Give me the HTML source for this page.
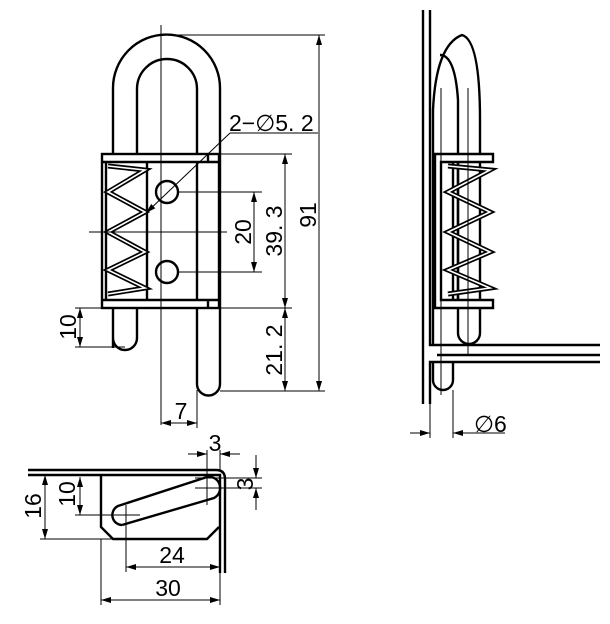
<!DOCTYPE html>
<html><head><style>body{margin:0;background:#fff}svg{display:block}</style></head><body>
<svg width="610" height="624" viewBox="0 0 610 624" xmlns="http://www.w3.org/2000/svg" font-family="Liberation Sans, sans-serif" font-size="23">
<defs><marker id="a" markerWidth="10" markerHeight="6" refX="10" refY="3" orient="auto-start-reverse" markerUnits="userSpaceOnUse"><path d="M0,0L10,3L0,6z" fill="#000"/></marker></defs>
<g fill="none" stroke="#000" stroke-width="2.4">
<path d="M113,348V88A53.5,53.5 0 0 1 220,88V384A11.5,11.5 0 0 1 197,384V89A30,30 0 0 0 137,89V338A12,12 0 0 1 113,338"/>
<rect x="102" y="154" width="117" height="154" fill="#fff"/>
<line x1="102" y1="162" x2="219" y2="162"/><line x1="102" y1="300" x2="219" y2="300"/>
<line x1="106" y1="162" x2="106" y2="300"/><line x1="147" y1="162" x2="147" y2="300"/>
<line x1="197" y1="162" x2="197" y2="300"/><line x1="208" y1="154" x2="208" y2="162"/><line x1="208" y1="300" x2="208" y2="308"/>
<circle cx="167" cy="192" r="11"/><circle cx="167" cy="272" r="11"/>
<path d="M108,166L145,170L108,192L145,212L108,232L145,252L108,270L145,288L108,294" stroke-width="5"/>
<path d="M108,166L145,170L108,192L145,212L108,232L145,252L108,270L145,288L108,294" stroke="#fff" stroke-width="1.6"/>
<path d="M423,10V404M430,10V345H600M430,404V362H600M437,355H600"/>
<path d="M433,345V110Q436,45 462,35Q480,40 480,120V333A11,11 0 0 1 458,333V100Q455,55 440,55"/>
<path d="M453,362V380A10,10 0 0 1 433,380V362"/>
<path d="M493,154H435V308H493V300H441V162H493z" fill="#fff"/>
<line x1="453" y1="162" x2="453" y2="300"/><line x1="458" y1="162" x2="458" y2="300"/>
<path d="M448,166L490,170L448,192L490,212L448,232L490,252L448,270L490,288L448,294" stroke-width="5"/>
<path d="M448,166L490,170L448,192L490,212L448,232L490,252L448,270L490,288L448,294" stroke="#fff" stroke-width="1.6"/>
<path d="M28,470H216Q225,470 225,479V573M28,475H220V573"/>
<path d="M101,475V527L113,539H207L219,527"/>
<path d="M122,525L214,498A10,10 0 0 0 204,478L118,506A10,10 0 0 0 122,525"/>
</g>
<g fill="none" stroke="#000" stroke-width="1">
<line x1="161" y1="25" x2="161" y2="425"/><line x1="89" y1="232" x2="227" y2="232"/>
<line x1="166" y1="35" x2="325" y2="35"/><line x1="220" y1="391" x2="325" y2="391"/>
<line x1="319" y1="35" x2="319" y2="391" marker-start="url(#a)" marker-end="url(#a)"/>
<line x1="219" y1="154" x2="292" y2="154"/><line x1="219" y1="308" x2="292" y2="308"/>
<line x1="285" y1="154" x2="285" y2="308" marker-start="url(#a)" marker-end="url(#a)"/>
<line x1="285" y1="308" x2="285" y2="391" marker-start="url(#a)" marker-end="url(#a)"/>
<line x1="178" y1="192" x2="262" y2="192"/><line x1="178" y1="272" x2="262" y2="272"/>
<line x1="254" y1="192" x2="254" y2="272" marker-start="url(#a)" marker-end="url(#a)"/>
<line x1="75" y1="308" x2="102" y2="308"/><line x1="75" y1="347" x2="125" y2="347"/>
<line x1="80" y1="308" x2="80" y2="347" marker-start="url(#a)" marker-end="url(#a)"/>
<line x1="197" y1="390" x2="197" y2="428"/>
<line x1="161" y1="423" x2="197" y2="423" marker-start="url(#a)" marker-end="url(#a)"/>
<line x1="146" y1="213" x2="230" y2="133" marker-start="url(#a)"/><line x1="230" y1="133" x2="318" y2="133"/>
<line x1="441" y1="88" x2="441" y2="395"/><line x1="468" y1="88" x2="468" y2="355"/>
<line x1="430" y1="404" x2="430" y2="438"/><line x1="453" y1="390" x2="453" y2="438"/>
<line x1="410" y1="433" x2="430" y2="433" marker-end="url(#a)"/><line x1="505" y1="433" x2="453" y2="433" marker-end="url(#a)"/>
<line x1="40" y1="539" x2="113" y2="539"/><line x1="45" y1="475" x2="45" y2="539" marker-start="url(#a)" marker-end="url(#a)"/>
<line x1="75" y1="515" x2="140" y2="515"/><line x1="80" y1="477" x2="80" y2="515" marker-start="url(#a)" marker-end="url(#a)"/>
<line x1="126" y1="505" x2="126" y2="572"/><line x1="126" y1="567" x2="220" y2="567" marker-start="url(#a)" marker-end="url(#a)"/>
<line x1="101" y1="539" x2="101" y2="605"/><line x1="220" y1="573" x2="220" y2="605"/>
<line x1="101" y1="600" x2="220" y2="600" marker-start="url(#a)" marker-end="url(#a)"/>
<line x1="207" y1="450" x2="207" y2="505"/><line x1="220" y1="450" x2="220" y2="470"/>
<line x1="188" y1="454" x2="207" y2="454" marker-end="url(#a)"/><line x1="240" y1="454" x2="220" y2="454" marker-end="url(#a)"/>
<line x1="195" y1="478" x2="262" y2="478"/><line x1="195" y1="488" x2="262" y2="488"/>
<line x1="256" y1="455" x2="256" y2="478" marker-end="url(#a)"/><line x1="256" y1="510" x2="256" y2="488" marker-end="url(#a)"/>
</g>
<g fill="#000">
<text x="229" y="131">2−∅5. 2</text>
<text transform="translate(316,215) rotate(-90)" text-anchor="middle">91</text>
<text transform="translate(282,231) rotate(-90)" text-anchor="middle">39. 3</text>
<text transform="translate(251,232) rotate(-90)" text-anchor="middle">20</text>
<text transform="translate(282,350) rotate(-90)" text-anchor="middle">21. 2</text>
<text transform="translate(76,327) rotate(-90)" text-anchor="middle">10</text>
<text x="181" y="419" text-anchor="middle">7</text>
<text x="474" y="432">∅6</text>
<text transform="translate(41,506) rotate(-90)" text-anchor="middle">16</text>
<text transform="translate(75,494) rotate(-90)" text-anchor="middle">10</text>
<text x="172" y="563" text-anchor="middle">24</text>
<text x="168" y="596" text-anchor="middle">30</text>
<text x="215" y="451" text-anchor="middle">3</text>
<text transform="translate(253,484) rotate(-90)" text-anchor="middle">3</text>
</g>
</svg>
</body></html>
